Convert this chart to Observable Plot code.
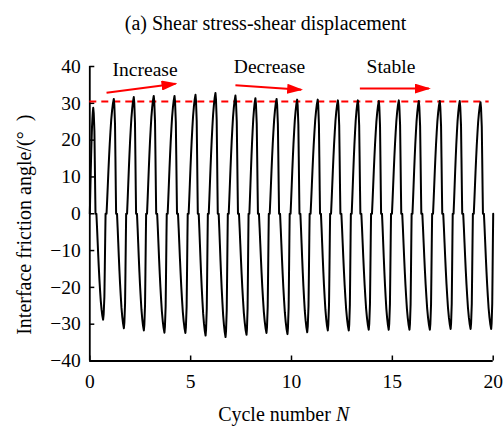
<!DOCTYPE html>
<html><head><meta charset="utf-8">
<script src="https://cdn.jsdelivr.net/npm/d3@7"></script>
<script src="https://cdn.jsdelivr.net/npm/@observablehq/plot@0.6"></script>
<style>body{margin:0;background:#fff}</style>
</head><body><div id="chart"></div>
<script>
// ---- text ----
const title = "(a) Shear stress-shear displacement";
const xLabelMain = "Cycle number";
const xLabelVar = "N";
const yLabel = "Interface friction angle/(\u00B0\u2002)";
const xTicks = [0, 5, 10, 15, 20];
const yTicks = [-40, -30, -20, -10, 0, 10, 20, 30, 40];

// ---- peaks and troughs of each cycle ----
const peakN = [0.17, 1.19, 2.18, 3.17, 4.20, 5.24, 6.23, 7.22, 8.21, 9.26,
               10.28, 11.30, 12.30, 13.29, 14.33, 15.32, 16.31, 17.35, 18.34, 19.37];
const peakV = [28.8, 31.2, 31.7, 32.0, 32.0, 32.3, 32.8, 32.1, 31.4, 31.2,
               31.0, 31.0, 30.8, 30.8, 30.6, 30.8, 30.6, 30.6, 30.6, 30.3];
const troughN = [0.66, 1.69, 2.68, 3.70, 4.74, 5.74, 6.73, 7.77, 8.76, 9.80,
                 10.78, 11.80, 12.84, 13.83, 14.82, 15.85, 16.86, 17.89, 18.88, 19.90];
const troughV = [-28.8, -31.1, -31.7, -32.3, -32.4, -33.1, -33.5, -32.9, -32.4, -32.7,
                 -32.2, -31.7, -31.7, -31.5, -31.5, -31.5, -31.5, -31.3, -31.3, -31.3];
const startN = 0, startV = 0;
const endN = 20, endV = 0;

// ---- shape of one half cycle ----
// sharp reversal from an extreme down to zero (fraction of that extreme)
const reversalPhase = [0, 0.05, 0.12, 0.16, 0.2, 0.23];
const reversalFrac  = [1, 0.95, 0.78, 0.5, 0.2, 0];
// curved growth from zero to the next extreme (fraction of next extreme)
const growthPhase = [0.32, 0.38, 0.44, 0.5, 0.56, 0.62, 0.69, 0.76, 0.84, 0.92, 1];
const growthFrac  = [0, 0.12, 0.25, 0.38, 0.5, 0.61, 0.72, 0.82, 0.9, 0.96, 1];

// ---- reference line and annotations ----
const refValue = 30.5, refFrom = 0, refTo = 19.8;
const annotText = ["Increase", "Decrease", "Stable"];
const annotN = [2.74, 8.91, 14.93];
const annotV = [39.0, 39.8, 39.8];
const arrowN1 = [0.83, 7.22, 13.39];
const arrowV1 = [32.9, 34.9, 34.0];
const arrowN2 = [4.25, 10.48, 16.81];
const arrowV2 = [35.3, 33.7, 34.0];

// ---- build the curve ----
const extremes = [];
for (let k = 0; k < peakN.length; k++) {
  extremes.push({n: peakN[k], v: peakV[k]});
  extremes.push({n: troughN[k], v: troughV[k]});
}
const pts = [{n: startN, v: startV}];
const g0 = growthPhase[0];
for (let j = 1; j < growthPhase.length; j++) {
  const s = (growthPhase[j] - g0) / (1 - g0);
  pts.push({n: startN + s * (extremes[0].n - startN), v: startV + growthFrac[j] * (extremes[0].v - startV)});
}
for (let i = 0; i + 1 < extremes.length; i++) {
  const A = extremes[i], B = extremes[i + 1], d = B.n - A.n;
  for (let j = 1; j < reversalPhase.length; j++) pts.push({n: A.n + reversalPhase[j] * d, v: reversalFrac[j] * A.v});
  for (let j = 0; j < growthPhase.length; j++) pts.push({n: A.n + growthPhase[j] * d, v: growthFrac[j] * B.v});
}
const last = extremes[extremes.length - 1];
const rEnd = reversalPhase[reversalPhase.length - 1];
for (let j = 1; j < reversalPhase.length; j++) {
  pts.push({n: last.n + reversalPhase[j] / rEnd * (endN - last.n), v: endV + reversalFrac[j] * (last.v - endV)});
}

const annots = annotText.map((t, i) => ({t, n: annotN[i], v: annotV[i]}));
const arrows = arrowN1.map((_, i) => ({n1: arrowN1[i], v1: arrowV1[i], n2: arrowN2[i], v2: arrowV2[i]}));

function filledHead(color) {
  const ns = "http://www.w3.org/2000/svg";
  const m = document.createElementNS(ns, "marker");
  m.setAttribute("viewBox", "0 -5 16 10");
  m.setAttribute("markerUnits", "userSpaceOnUse");
  m.setAttribute("markerWidth", 16);
  m.setAttribute("markerHeight", 10);
  m.setAttribute("refX", 14);
  m.setAttribute("refY", 0);
  m.setAttribute("orient", "auto");
  const p = document.createElementNS(ns, "path");
  p.setAttribute("d", "M0,-5L16,0L0,5Z");
  p.setAttribute("fill", color);
  p.setAttribute("stroke", "none");
  m.appendChild(p);
  return m;
}

const FS = 19.5, FL = 20;
const chart = Plot.plot({
  width: 503,
  height: 427,
  marginLeft: 89.3,
  marginRight: 10.3,
  marginTop: 66,
  marginBottom: 66.5,
  style: {fontFamily: "'Liberation Serif', 'Times New Roman', serif", fontSize: FS + "px", color: "black", background: "white"},
  x: {domain: [0, 20], ticks: xTicks},
  y: {domain: [-40, 40], ticks: yTicks},
  marks: [
    // inward ticks
    Plot.axisX(xTicks, {tickSize: -5, fill: "none", strokeWidth: 1.5}),
    Plot.axisY(yTicks, {tickSize: -5, fill: "none", strokeWidth: 1.5}),
    // tick labels
    Plot.axisX(xTicks, {tickSize: 0, tickPadding: 13, stroke: "none", label: null, fontSize: FS}),
    Plot.axisY(yTicks, {tickSize: 0, tickPadding: 9, stroke: "none", label: null, fontSize: FS}),
    // axis lines
    Plot.ruleX([0], {stroke: "black", strokeWidth: 1.8}),
    Plot.ruleY([-40], {stroke: "black", strokeWidth: 1.8}),
    // red reference line
    Plot.ruleY([refValue], {x1: refFrom, x2: refTo, stroke: "#ff0000", strokeWidth: 2, strokeDasharray: "7,5"}),
    // main curve
    Plot.line(pts, {x: "n", y: "v", stroke: "black", strokeWidth: 2, strokeLinejoin: "round"}),
    // annotation arrows and texts
    Plot.link(arrows, {x1: "n1", y1: "v1", x2: "n2", y2: "v2", stroke: "#ff0000", strokeWidth: 2, markerEnd: filledHead}),
    Plot.text(annots, {x: "n", y: "v", text: "t", fontSize: FS, fill: "black", lineAnchor: "middle"}),
    // title
    Plot.text([title], {frameAnchor: "top", textAnchor: "middle", dx: -26, dy: -43.2, fontSize: FL, lineAnchor: "middle", fill: "black"}),
    // x label
    Plot.text([xLabelMain], {frameAnchor: "bottom", dx: 39.4, dy: 53.3, textAnchor: "end", fontSize: FL, lineAnchor: "middle", fill: "black"}),
    Plot.text([xLabelVar], {frameAnchor: "bottom", dx: 44.5, dy: 53.3, textAnchor: "start", fontSize: FL, fontStyle: "italic", lineAnchor: "middle", fill: "black"}),
    // y label
    Plot.text([yLabel], {frameAnchor: "left", textAnchor: "middle", dx: -65.3, dy: 11, rotate: -90, fontSize: FL, lineAnchor: "middle", fill: "black"})
  ]
});
document.getElementById("chart").appendChild(chart);
</script>
</body></html>
